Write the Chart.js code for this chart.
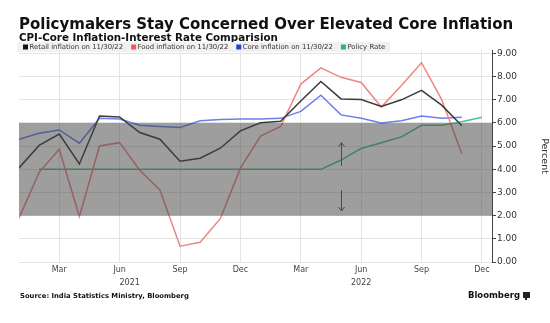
<!DOCTYPE html>
<html>
<head>
<meta charset="utf-8">
<script src="https://cdn.jsdelivr.net/npm/chart.js@4.4.0/dist/chart.umd.min.js"></script>
<style>
  html, body { margin: 0; padding: 0; background: #fff; }
  #wrap { width: 550px; height: 323px; }
</style>
</head>
<body>
<div id="wrap"><canvas id="chart" width="550" height="323"></canvas></div>
<script>
// DATA - monthly, Jan 2021 .. Dec 2022
var months = ['Jan 2021', 'Feb 2021', 'Mar 2021', 'Apr 2021', 'May 2021', 'Jun 2021',
    'Jul 2021', 'Aug 2021', 'Sep 2021', 'Oct 2021', 'Nov 2021', 'Dec 2021',
    'Jan 2022', 'Feb 2022', 'Mar 2022', 'Apr 2022', 'May 2022', 'Jun 2022',
    'Jul 2022', 'Aug 2022', 'Sep 2022', 'Oct 2022', 'Nov 2022', 'Dec 2022']
var retail = [4.06, 5.03, 5.52, 4.23, 6.30, 6.26, 5.59, 5.30, 4.35, 4.48, 4.91, 5.66,
    6.01, 6.07, 6.95, 7.79, 7.04, 7.01, 6.71, 7.00, 7.41, 6.77, 5.88, null]
var food = [1.89, 3.87, 4.87, 1.96, 5.01, 5.15, 3.96, 3.11, 0.68, 0.85, 1.87, 4.05,
    5.43, 5.85, 7.68, 8.38, 7.97, 7.75, 6.69, 7.62, 8.60, 7.01, 4.67, null]
var core = [5.30, 5.56, 5.70, 5.13, 6.20, 6.17, 5.90, 5.85, 5.80, 6.10, 6.15, 6.17,
    6.17, 6.20, 6.50, 7.20, 6.35, 6.20, 6.00, 6.10, 6.30, 6.20, 6.25, null]
var policy = [null, 4.00, 4.00, 4.00, 4.00, 4.00, 4.00, 4.00, 4.00, 4.00, 4.00, 4.00,
    4.00, 4.00, 4.00, 4.00, 4.40, 4.90, 5.15, 5.40, 5.90, 5.90, 6.05, 6.25]
var seriesNames = ['Retail inflation on 11/30/22', 'Food inflation on 11/30/22',
    'Core inflation on 11/30/22', 'Policy Rate']
var quarterTicks = [2, 5, 8, 11, 14, 17, 20, 23]
var yTicks = [0, 1, 2, 3, 4, 5, 6, 7, 8, 9]
var yearLabels = [{ at: 5.5, text: '2021' }, { at: 17, text: '2022' }]
var toleranceBand = [2, 6]
var bandArrowAt = 16

var FONT = '"DejaVu Sans", Verdana, sans-serif'

let points = function (arr) {
    return arr.map(function (v, i) { return { x: i, y: v } })
}

let lineSet = function (label, arr, color, legendColor) {
    return {
        label: label,
        data: points(arr),
        borderColor: color,
        backgroundColor: color,
        legendColor: legendColor,
        borderWidth: 1.5,
        pointRadius: 0,
        tension: 0,
        spanGaps: false
    }
}

// shaded tolerance band + arrows, drawn over the lines
let bandPlugin = {
    id: 'band',
    afterDatasetsDraw: function (chart) {
        var ctx = chart.ctx, area = chart.chartArea
        var y = chart.scales.y, x = chart.scales.x
        var top = y.getPixelForValue(toleranceBand[1])
        var bottom = y.getPixelForValue(toleranceBand[0])
        ctx.save()
        ctx.fillStyle = 'rgba(62, 62, 62, 0.5)'
        ctx.fillRect(area.left, top, area.right - area.left, bottom - top)

        // arrows
        var ax = Math.round(x.getPixelForValue(bandArrowAt)) + 0.5
        ctx.strokeStyle = '#4a4a4a'
        ctx.lineWidth = 1
        var arrow = function (from, to) {
            var y1 = y.getPixelForValue(from), y2 = y.getPixelForValue(to)
            var dir = y2 < y1 ? 1 : -1
            ctx.beginPath()
            ctx.moveTo(ax, y1)
            ctx.lineTo(ax, y2)
            ctx.moveTo(ax - 3, y2 + dir * 4)
            ctx.lineTo(ax, y2)
            ctx.lineTo(ax + 3, y2 + dir * 4)
            ctx.stroke()
        }
        arrow(4.15, 5.15)
        arrow(3.1, 2.2)
        ctx.restore()
    }
}

// titles, legend, year labels, source
let decorPlugin = {
    id: 'decor',
    afterDraw: function (chart) {
        var ctx = chart.ctx, x = chart.scales.x
        ctx.save()
        ctx.textBaseline = 'alphabetic'
        ctx.fillStyle = '#111'
        ctx.font = 'bold 15px ' + FONT
        ctx.fillText('Policymakers Stay Concerned Over Elevated Core Inflation', 19, 29)
        ctx.font = 'bold 10.3px ' + FONT
        ctx.fillText('CPI-Core Inflation-Interest Rate Comparision', 19, 41)

        // legend
        ctx.fillStyle = '#f1f1f1'
        ctx.fillRect(17, 42, 373, 10)
        ctx.font = '6.9px ' + FONT
        ctx.textBaseline = 'middle'
        var lx = 23
        chart.data.datasets.forEach(function (ds) {
            ctx.fillStyle = ds.legendColor
            ctx.fillRect(lx, 44.5, 5, 5)
            ctx.fillStyle = '#333'
            ctx.fillText(ds.label, lx + 6.5, 47.5)
            lx += 6.5 + ctx.measureText(ds.label).width + 8
        })

        // years under the quarter labels
        ctx.font = '8px ' + FONT
        ctx.fillStyle = '#444'
        ctx.textAlign = 'center'
        yearLabels.forEach(function (yl) {
            ctx.fillText(yl.text, x.getPixelForValue(yl.at), 283)
        })

        // footer
        ctx.textAlign = 'left'
        ctx.fillStyle = '#111'
        ctx.font = 'bold 6.8px ' + FONT
        ctx.fillText('Source: India Statistics Ministry, Bloomberg', 20, 296)
        ctx.font = 'bold 8.5px ' + FONT
        ctx.textAlign = 'right'
        ctx.fillText('Bloomberg', 520, 296)
        ctx.fillStyle = '#222'
        ctx.fillRect(523, 292, 7, 6)
        ctx.fillRect(525, 298, 2, 2)
        ctx.restore()
    }
}

var cnx = document.getElementById('chart')

var chart = new Chart(cnx, {
    type: 'line',
    data: {
        datasets: [
            lineSet(seriesNames[0], retail, '#3b3b3b', '#111111'),
            lineSet(seriesNames[1], food, '#f08585', '#f05a5a'),
            lineSet(seriesNames[2], core, '#6a80e8', '#2143d1'),
            lineSet(seriesNames[3], policy, '#4cc08e', '#2db47f')
        ]
    },
    plugins: [bandPlugin, decorPlugin],
    options: {
        responsive: false,
        animation: false,
        devicePixelRatio: 1,
        layout: { padding: { left: 19, top: 50, right: 0, bottom: 41 } },
        plugins: {
            legend: { display: false },
            title: { display: false },
            tooltip: { enabled: false }
        },
        scales: {
            x: {
                type: 'linear',
                min: 0,
                max: 23.5,
                afterBuildTicks: function (scale) {
                    scale.ticks = quarterTicks.map(function (v) { return { value: v } })
                },
                afterFit: function (scale) { scale.height = 20 },
                ticks: {
                    autoSkip: false,
                    maxRotation: 0,
                    padding: 3,
                    color: '#444',
                    font: { family: FONT, size: 8 },
                    callback: function (v) { return months[v].slice(0, 3) }
                },
                grid: { color: '#e4e4e4', drawTicks: false },
                border: { display: false }
            },
            y: {
                position: 'right',
                min: 0,
                max: 9.15,
                afterBuildTicks: function (scale) {
                    scale.ticks = yTicks.map(function (v) { return { value: v } })
                },
                afterFit: function (scale) { scale.width = 58 },
                ticks: {
                    padding: 1,
                    color: '#333',
                    font: { family: FONT, size: 9 },
                    callback: function (v) { return v.toFixed(2) }
                },
                grid: { color: '#e4e4e4', tickColor: '#444', tickLength: 4 },
                border: { color: '#444', width: 1 },
                title: {
                    display: true,
                    text: 'Percent',
                    color: '#333',
                    font: { family: FONT, size: 9.5 },
                    padding: { top: 0, bottom: 2 }
                }
            }
        }
    }
})
</script>
</body>
</html>
